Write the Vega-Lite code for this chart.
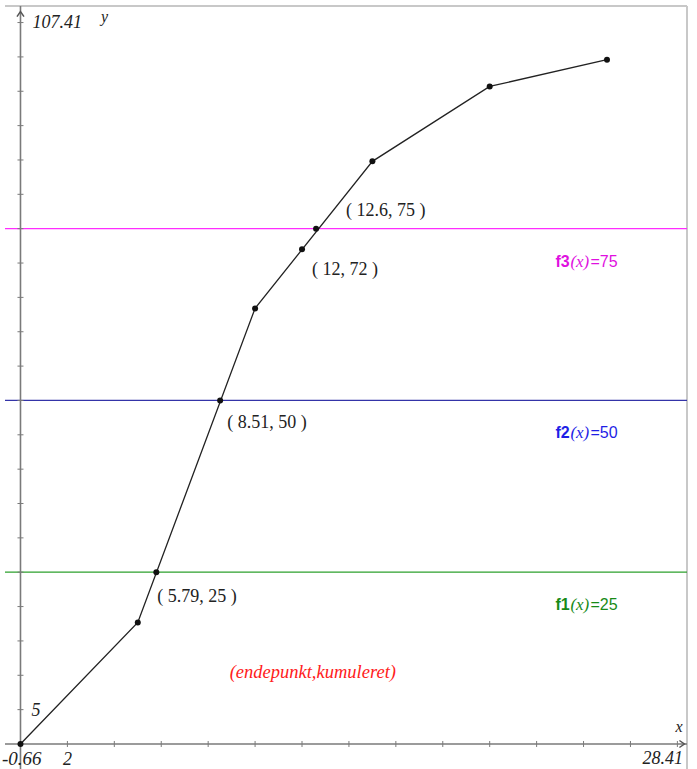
{
  "$schema": "https://vega.github.io/schema/vega-lite/v6.json",
  "width": 682,
  "height": 763,
  "autosize": {"type": "none"},
  "padding": {"left": 5, "top": 6, "right": 10, "bottom": 0},
  "background": "white",
  "config": {
    "view": {"stroke": null},
    "axis": {"disable": true},
    "legend": {"disable": true}
  },
  "data": {"values": [{}]},
  "datasets": {
    "cumulative": [
      {"x": 0, "y": 0, "kind": "vertex"},
      {"x": 5, "y": 17.7, "kind": "vertex"},
      {"x": 10, "y": 63.4, "kind": "vertex"},
      {"x": 15, "y": 84.8, "kind": "vertex"},
      {"x": 20, "y": 95.7, "kind": "vertex"},
      {"x": 25, "y": 99.6, "kind": "vertex"},
      {"x": 5.79, "y": 25, "kind": "quartile", "label": "( 5.79, 25 )"},
      {"x": 8.51, "y": 50, "kind": "quartile", "label": "( 8.51, 50 )"},
      {"x": 12, "y": 72, "kind": "quartile", "label": "( 12, 72 )"},
      {"x": 12.6, "y": 75, "kind": "quartile", "label": "( 12.6, 75 )"}
    ],
    "levels": [
      {"name": "f1", "value": 25},
      {"name": "f2", "value": 50},
      {"name": "f3", "value": 75}
    ],
    "xticks": [
      {"v": 2}, {"v": 4}, {"v": 6}, {"v": 8}, {"v": 10}, {"v": 12}, {"v": 14},
      {"v": 16}, {"v": 18}, {"v": 20}, {"v": 22}, {"v": 24}, {"v": 26}, {"v": 28}
    ],
    "yticks": [
      {"v": 5}, {"v": 10}, {"v": 15}, {"v": 20}, {"v": 25}, {"v": 30}, {"v": 35},
      {"v": 40}, {"v": 45}, {"v": 50}, {"v": 55}, {"v": 60}, {"v": 65}, {"v": 70},
      {"v": 75}, {"v": 80}, {"v": 85}, {"v": 90}, {"v": 95}, {"v": 100}, {"v": 105}
    ]
  },
  "resolve": {"scale": {"color": "independent"}},
  "layer": [
    {
      "mark": {"type": "rule", "color": "#c8c8c8", "strokeWidth": 2},
      "encoding": {
        "y": {"datum": 107.41, "type": "quantitative", "scale": {"domain": [-3.64, 107.41], "nice": false, "zero": false}, "axis": null}
      }
    },
    {
      "mark": {"type": "rule", "color": "#c8c8c8", "strokeWidth": 2},
      "encoding": {
        "x": {"datum": 28.41, "type": "quantitative", "scale": {"domain": [-0.66, 28.41], "nice": false, "zero": false}, "axis": null}
      }
    },
    {
      "data": {"name": "levels"},
      "mark": {"type": "rule", "strokeWidth": 1.3},
      "encoding": {
        "y": {"field": "value", "type": "quantitative"},
        "color": {
          "field": "name", "type": "nominal", "legend": null,
          "scale": {"domain": ["f1", "f2", "f3"], "range": ["#2ca02c", "#3434a8", "#ff2cff"]}
        }
      }
    },
    {
      "mark": {"type": "rule", "color": "#7a7a7a", "strokeWidth": 1.6},
      "encoding": {"y": {"datum": 0, "type": "quantitative"}}
    },
    {
      "mark": {"type": "rule", "color": "#7a7a7a", "strokeWidth": 1.6},
      "encoding": {"x": {"datum": 0, "type": "quantitative"}}
    },
    {
      "data": {"name": "xticks"},
      "mark": {"type": "point", "shape": "M0,-1L0,1", "filled": false, "size": 36, "color": "#7a7a7a", "strokeWidth": 1, "opacity": 1},
      "encoding": {
        "x": {"field": "v", "type": "quantitative"},
        "y": {"datum": 0, "type": "quantitative"}
      }
    },
    {
      "data": {"name": "yticks"},
      "mark": {"type": "point", "shape": "M-1,0L1,0", "filled": false, "size": 36, "color": "#7a7a7a", "strokeWidth": 1, "opacity": 1},
      "encoding": {
        "x": {"datum": 0, "type": "quantitative"},
        "y": {"field": "v", "type": "quantitative"}
      }
    },
    {
      "mark": {"type": "point", "shape": "M-0.7,1L0,0L0.7,1", "filled": false, "size": 100, "color": "#555", "strokeWidth": 1.5, "opacity": 1},
      "encoding": {
        "x": {"datum": 0, "type": "quantitative"},
        "y": {"datum": 106.6, "type": "quantitative"}
      }
    },
    {
      "mark": {"type": "point", "shape": "M-1,-0.7L0,0L-1,0.7", "filled": false, "size": 100, "color": "#555", "strokeWidth": 1.5, "opacity": 1},
      "encoding": {
        "x": {"datum": 28.3, "type": "quantitative"},
        "y": {"datum": 0, "type": "quantitative"}
      }
    },
    {
      "data": {"name": "cumulative"},
      "transform": [{"filter": "datum.kind == 'vertex'"}],
      "mark": {"type": "line", "color": "#222", "strokeWidth": 1.3},
      "encoding": {
        "x": {"field": "x", "type": "quantitative"},
        "y": {"field": "y", "type": "quantitative"},
        "order": {"field": "x", "type": "quantitative"}
      }
    },
    {
      "data": {"name": "cumulative"},
      "mark": {"type": "point", "filled": true, "size": 36, "color": "#111", "opacity": 1},
      "encoding": {
        "x": {"field": "x", "type": "quantitative"},
        "y": {"field": "y", "type": "quantitative"}
      }
    },
    {
      "data": {"name": "cumulative"},
      "transform": [{"filter": "datum.x == 5.79"}],
      "mark": {"type": "text", "align": "left", "baseline": "middle", "dx": 1, "dy": 25, "font": "Liberation Serif", "fontSize": 18, "color": "#222"},
      "encoding": {
        "x": {"field": "x", "type": "quantitative"},
        "y": {"field": "y", "type": "quantitative"},
        "text": {"field": "label"}
      }
    },
    {
      "data": {"name": "cumulative"},
      "transform": [{"filter": "datum.x == 8.51"}],
      "mark": {"type": "text", "align": "left", "baseline": "middle", "dx": 7, "dy": 23, "font": "Liberation Serif", "fontSize": 18, "color": "#222"},
      "encoding": {
        "x": {"field": "x", "type": "quantitative"},
        "y": {"field": "y", "type": "quantitative"},
        "text": {"field": "label"}
      }
    },
    {
      "data": {"name": "cumulative"},
      "transform": [{"filter": "datum.x == 12"}],
      "mark": {"type": "text", "align": "left", "baseline": "middle", "dx": 10, "dy": 21, "font": "Liberation Serif", "fontSize": 18, "color": "#222"},
      "encoding": {
        "x": {"field": "x", "type": "quantitative"},
        "y": {"field": "y", "type": "quantitative"},
        "text": {"field": "label"}
      }
    },
    {
      "data": {"name": "cumulative"},
      "transform": [{"filter": "datum.x == 12.6"}],
      "mark": {"type": "text", "align": "left", "baseline": "middle", "dx": 30, "dy": -18, "font": "Liberation Serif", "fontSize": 18, "color": "#222"},
      "encoding": {
        "x": {"field": "x", "type": "quantitative"},
        "y": {"field": "y", "type": "quantitative"},
        "text": {"field": "label"}
      }
    },
    {
      "data": {"name": "levels"},
      "transform": [{"calculate": "'=' + datum.value", "as": "eq"}],
      "encoding": {
        "x": {"datum": 22.8, "type": "quantitative"},
        "y": {"field": "value", "type": "quantitative"},
        "color": {
          "field": "name", "type": "nominal", "legend": null,
          "scale": {"domain": ["f1", "f2", "f3"], "range": ["#178a17", "#1f1fe6", "#e010e0"]}
        }
      },
      "layer": [
        {
          "mark": {"type": "text", "align": "left", "baseline": "middle", "dy": 33, "font": "Liberation Sans", "fontWeight": "bold", "fontSize": 16},
          "encoding": {"text": {"field": "name"}}
        },
        {
          "mark": {"type": "text", "text": "(x)", "align": "left", "baseline": "middle", "dx": 15, "dy": 33, "font": "Liberation Serif", "fontStyle": "italic", "fontSize": 17}
        },
        {
          "mark": {"type": "text", "align": "left", "baseline": "middle", "dx": 35, "dy": 33, "font": "Liberation Sans", "fontSize": 16},
          "encoding": {"text": {"field": "eq"}}
        }
      ]
    },
    {
      "mark": {"type": "text", "text": "(endepunkt,kumuleret)", "align": "center", "baseline": "middle", "font": "Liberation Serif", "fontStyle": "italic", "fontSize": 18.5, "color": "#ff2020"},
      "encoding": {
        "x": {"datum": 12.46, "type": "quantitative"},
        "y": {"datum": 10.5, "type": "quantitative"}
      }
    },
    {
      "mark": {"type": "text", "text": "107.41", "align": "left", "baseline": "alphabetic", "dx": 12, "dy": 22, "font": "Liberation Serif", "fontStyle": "italic", "fontSize": 18, "color": "#222"},
      "encoding": {
        "x": {"datum": 0, "type": "quantitative"},
        "y": {"datum": 107.41, "type": "quantitative"}
      }
    },
    {
      "mark": {"type": "text", "text": "y", "align": "center", "baseline": "alphabetic", "dx": 84, "dy": 16, "font": "Liberation Serif", "fontStyle": "italic", "fontSize": 16, "color": "#222"},
      "encoding": {
        "x": {"datum": 0, "type": "quantitative"},
        "y": {"datum": 107.41, "type": "quantitative"}
      }
    },
    {
      "mark": {"type": "text", "text": "5", "align": "left", "baseline": "alphabetic", "dx": 11, "dy": 6, "font": "Liberation Serif", "fontStyle": "italic", "fontSize": 18, "color": "#222"},
      "encoding": {
        "x": {"datum": 0, "type": "quantitative"},
        "y": {"datum": 5, "type": "quantitative"}
      }
    },
    {
      "mark": {"type": "text", "text": "-0.66", "align": "right", "baseline": "alphabetic", "dx": 21, "dy": 21, "font": "Liberation Serif", "fontStyle": "italic", "fontSize": 19, "color": "#222"},
      "encoding": {
        "x": {"datum": 0, "type": "quantitative"},
        "y": {"datum": 0, "type": "quantitative"}
      }
    },
    {
      "mark": {"type": "text", "text": "2", "align": "center", "baseline": "alphabetic", "dy": 21, "font": "Liberation Serif", "fontStyle": "italic", "fontSize": 18, "color": "#222"},
      "encoding": {
        "x": {"datum": 2, "type": "quantitative"},
        "y": {"datum": 0, "type": "quantitative"}
      }
    },
    {
      "mark": {"type": "text", "text": "28.41", "align": "right", "baseline": "alphabetic", "dx": -4, "dy": 20, "font": "Liberation Serif", "fontStyle": "italic", "fontSize": 18, "color": "#222"},
      "encoding": {
        "x": {"datum": 28.41, "type": "quantitative"},
        "y": {"datum": 0, "type": "quantitative"}
      }
    },
    {
      "mark": {"type": "text", "text": "x", "align": "center", "baseline": "alphabetic", "dx": -8, "dy": -12, "font": "Liberation Serif", "fontStyle": "italic", "fontSize": 16, "color": "#222"},
      "encoding": {
        "x": {"datum": 28.41, "type": "quantitative"},
        "y": {"datum": 0, "type": "quantitative"}
      }
    }
  ]
}
